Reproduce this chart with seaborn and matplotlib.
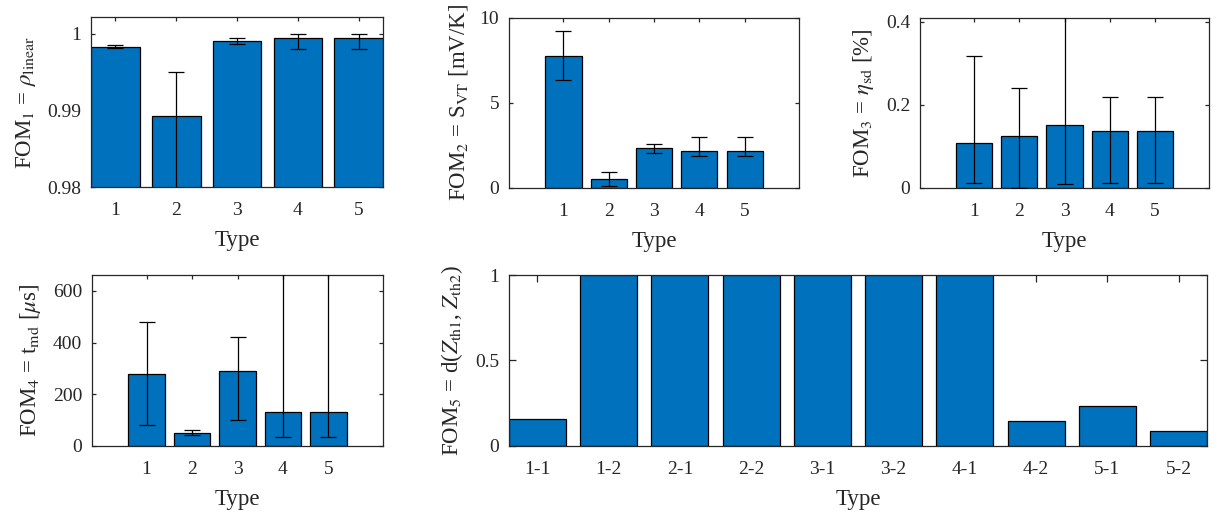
import matplotlib
matplotlib.use("Agg")
import numpy as np
import pandas as pd
import seaborn as sns
import matplotlib.pyplot as plt
from matplotlib.ticker import FuncFormatter

# ---- data -------------------------------------------------------------
types = [1, 2, 3, 4, 5]

fom1 = [0.9983, 0.9893, 0.99905, 0.99944, 0.99944]
fom1_lo = [0.0002, 0.0120, 0.0004, 0.0014, 0.0014]
fom1_hi = [0.0002, 0.0057, 0.0004, 0.00056, 0.00056]

fom2 = [7.75, 0.53, 2.35, 2.18, 2.18]
fom2_lo = [1.40, 0.45, 0.30, 0.32, 0.32]
fom2_hi = [1.45, 0.38, 0.25, 0.80, 0.80]

fom3 = [0.109, 0.125, 0.151, 0.136, 0.136]
fom3_lo = [0.098, 0.125, 0.142, 0.125, 0.125]
fom3_hi = [0.208, 0.115, 0.300, 0.082, 0.082]

fom4 = [277, 50, 289, 129, 129]
fom4_lo = [197, 10, 188, 94, 94]
fom4_hi = [203, 12, 133, 700, 700]

pairs = ["1-1", "1-2", "2-1", "2-2", "3-1", "3-2", "4-1", "4-2", "5-1", "5-2"]
fom5 = [0.156, 1.0, 1.0, 1.0, 1.0, 1.0, 1.0, 0.143, 0.232, 0.086]

# ---- style ------------------------------------------------------------
sns.set_theme(style="ticks")
plt.rcParams["font.family"] = ["Liberation Serif", "DejaVu Serif"]
plt.rcParams["mathtext.fontset"] = "stix"
plt.rcParams["axes.edgecolor"] = "#262626"
plt.rcParams["axes.linewidth"] = 0.9
plt.rcParams["xtick.color"] = "#262626"
plt.rcParams["ytick.color"] = "#262626"

BLUE = "#0072BD"
INK = "#262626"
TICK_FS = 14
LABEL_FS = 16.5

fig = plt.figure(figsize=(12.17, 5.15), dpi=100)
W, H = 1217, 515


def add_axes(x0, x1, y0, y1):
    return fig.add_axes([x0 / W, (H - y1) / H, (x1 - x0) / W, (y1 - y0) / H])


def style(ax, ticklen=3.0):
    ax.tick_params(direction="in", top=True, right=True, length=ticklen,
                   width=0.9, labelsize=TICK_FS, labelcolor=INK)
    ax.tick_params(axis="x", pad=11)
    ax.tick_params(axis="y", pad=7)
    for s in ax.spines.values():
        s.set_visible(True)
        s.set_color(INK)
    ax.set_xlabel("Type", fontsize=LABEL_FS, labelpad=8, color=INK)
    ax.yaxis.set_major_formatter(FuncFormatter(lambda v, p: f"{v:g}"))


def bar_panel(ax, values, lo, hi, ylabel, xlim, ylim, yticks):
    df = pd.DataFrame({"Type": types, "FOM": values})
    sns.barplot(data=df, x="Type", y="FOM", native_scale=True, color=BLUE,
                saturation=1, edgecolor="black", linewidth=0.9,
                errorbar=None, ax=ax)
    ax.errorbar(types, values, yerr=[lo, hi], fmt="none", ecolor="black",
                elinewidth=0.9, capsize=6, capthick=0.9, zorder=5)
    ax.set_xlim(*xlim)
    ax.set_ylim(*ylim)
    ax.set_xticks(types)
    ax.set_xticklabels([str(t) for t in types])
    ax.set_yticks(yticks)
    ax.set_ylabel(ylabel, fontsize=LABEL_FS, color=INK, labelpad=7)
    style(ax)


ax1 = add_axes(91, 383, 17, 187)
bar_panel(ax1, fom1, fom1_lo, fom1_hi, r"FOM$_1$ = $\rho_{\mathrm{linear}}$",
          (0.6, 5.4), (0.98, 1.0022), [0.98, 0.99, 1.0])

ax2 = add_axes(509, 799, 17.7, 187.7)
bar_panel(ax2, fom2, fom2_lo, fom2_hi, r"FOM$_2$ = S$_{\mathrm{VT}}$ [mV/K]",
          (-0.2, 6.2), (0, 10), [0, 5, 10])

ax3 = add_axes(920, 1209, 17.7, 187.7)
bar_panel(ax3, fom3, fom3_lo, fom3_hi, r"FOM$_3$ = $\eta_{\mathrm{sd}}$ [%]",
          (-0.2, 6.2), (0, 0.41), [0, 0.2, 0.4])

ax4 = add_axes(92, 383, 275, 445.7)
bar_panel(ax4, fom4, fom4_lo, fom4_hi, r"FOM$_4$ = t$_{\mathrm{md}}$ [$\mu$s]",
          (-0.2, 6.2), (0, 662), [0, 200, 400, 600])

ax5 = add_axes(509, 1207, 275, 445.7)
df5 = pd.DataFrame({"Type": pairs, "FOM": fom5})
sns.barplot(data=df5, x="Type", y="FOM", order=pairs, color=BLUE,
            saturation=1, edgecolor="black", linewidth=0.9, errorbar=None,
            ax=ax5)
ax5.set_xlim(-0.4, len(pairs) - 0.6)
ax5.set_ylim(0, 1)
ax5.set_yticks([0, 0.5, 1])
ax5.set_ylabel(r"FOM$_5$ = d($Z_{\mathrm{th1}}$, $Z_{\mathrm{th2}}$)",
               fontsize=LABEL_FS, color=INK, labelpad=7)
style(ax5, ticklen=5.0)

fig.savefig("out.png", dpi=100)
